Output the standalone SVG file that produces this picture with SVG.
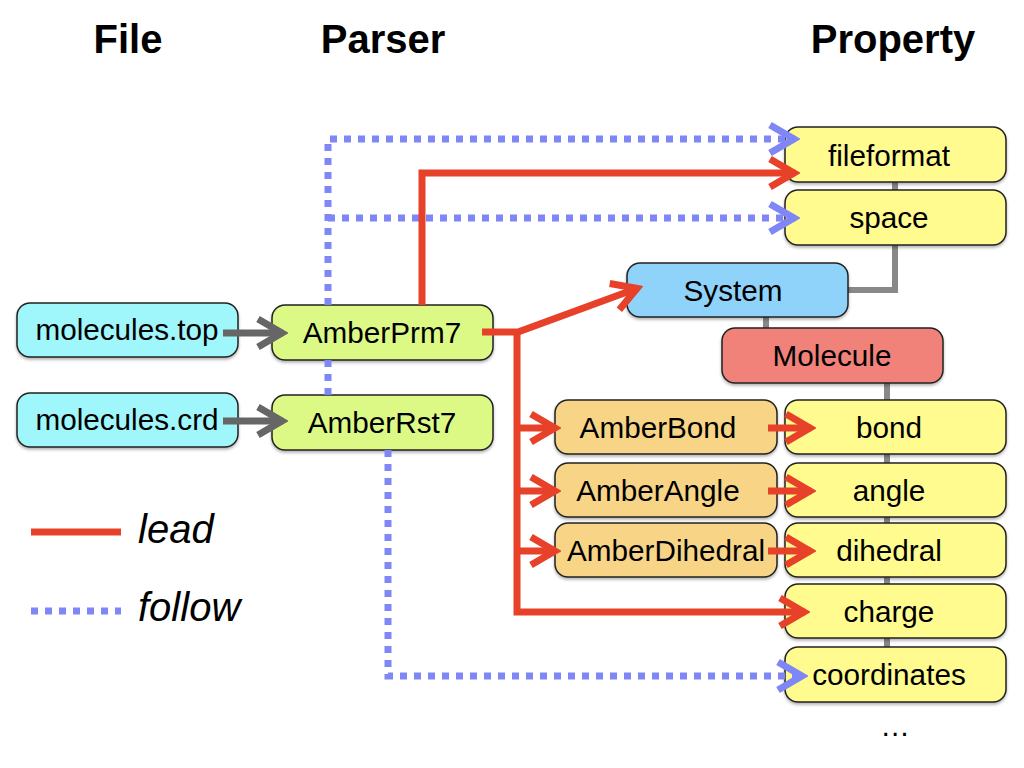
<svg xmlns="http://www.w3.org/2000/svg" width="1024" height="768" viewBox="0 0 1024 768">
<style>
  .hdr { font-family: "Liberation Sans", Arial, Helvetica, sans-serif; font-weight: bold; font-size: 40px; fill: #000; text-anchor: middle; }
  .lbl { font-family: "Liberation Sans", Arial, Helvetica, sans-serif; font-size: 29.7px; fill: #000; text-anchor: middle; }
  .leg { font-family: "Liberation Sans", Arial, Helvetica, sans-serif; font-style: italic; font-size: 40px; fill: #000; }
  .box { stroke: #222; stroke-width: 1.5; filter: url(#sh); }
  .file { fill: #9ff6fb; }
  .parser { fill: #dcf986; }
  .prop { fill: #fffb8f; }
  .sys { fill: #8fd3fb; }
  .mol { fill: #f0827a; }
  .amber { fill: #f8d486; }
  .lead { stroke: #e8412a; stroke-width: 7; fill: none; }
  .follow { stroke: #7f86f5; stroke-width: 7; fill: none; stroke-dasharray: 7 7; }
  .tree { stroke: #888; stroke-width: 6; fill: none; }
  .feed { stroke: #666; stroke-width: 7; fill: none; }
</style>
<defs>
  <filter id="sh" x="-10%" y="-20%" width="120%" height="150%">
    <feDropShadow dx="0" dy="2" stdDeviation="1.5" flood-color="#000" flood-opacity="0.3"/>
  </filter>
  <marker id="ar" markerUnits="userSpaceOnUse" markerWidth="36" markerHeight="36" viewBox="0 0 36 36" refX="31" refY="18" orient="auto">
    <path d="M6,4 L30,18 L6,32" fill="none" stroke="#e8412a" stroke-width="7"/>
  </marker>
  <marker id="ab" markerUnits="userSpaceOnUse" markerWidth="36" markerHeight="36" viewBox="0 0 36 36" refX="31" refY="18" orient="auto">
    <path d="M6,4 L30,18 L6,32" fill="none" stroke="#7f86f5" stroke-width="7"/>
  </marker>
  <marker id="ag" markerUnits="userSpaceOnUse" markerWidth="36" markerHeight="36" viewBox="0 0 36 36" refX="31" refY="18" orient="auto">
    <path d="M6,4 L30,18 L6,32" fill="none" stroke="#666" stroke-width="7"/>
  </marker>
</defs>
<rect width="1024" height="768" fill="#fff"/>

<g id="headers">
  <text class="hdr" x="128" y="53">File</text>
  <text class="hdr" x="383" y="53">Parser</text>
  <text class="hdr" x="893" y="53">Property</text>
</g>

<g id="connectors-back">
  <path class="tree" d="M895,182 V190 M895,245 V290 H848 M766,317 V328 M887,383 V400 M887,454 V463 M887,517 V523 M887,577 V584 M887,638 V647"/>
</g>

<g id="node-molecules-top"><rect class="box file" x="17" y="303" width="221" height="54" rx="13"/><text class="lbl" x="127" y="340">molecules.top</text></g>
<g id="node-molecules-crd"><rect class="box file" x="17" y="393" width="221" height="54" rx="13"/><text class="lbl" x="127" y="430">molecules.crd</text></g>
<g id="node-amberprm7"><rect class="box parser" x="272" y="305" width="221" height="55" rx="13"/><text class="lbl" x="382" y="343">AmberPrm7</text></g>
<g id="node-amberrst7"><rect class="box parser" x="272" y="395" width="221" height="55" rx="13"/><text class="lbl" x="382" y="433">AmberRst7</text></g>
<g id="node-fileformat"><rect class="box prop" x="785" y="127" width="221" height="55" rx="13"/><text class="lbl" x="889" y="166">fileformat</text></g>
<g id="node-space"><rect class="box prop" x="785" y="190" width="221" height="55" rx="13"/><text class="lbl" x="889" y="228">space</text></g>
<g id="node-system"><rect class="box sys" x="627" y="263" width="221" height="54" rx="13"/><text class="lbl" x="733" y="301">System</text></g>
<g id="node-molecule"><rect class="box mol" x="722" y="328" width="221" height="55" rx="13"/><text class="lbl" x="832" y="366">Molecule</text></g>
<g id="node-amberbond"><rect class="box amber" x="555" y="400" width="222" height="54" rx="13"/><text class="lbl" x="658" y="438">AmberBond</text></g>
<g id="node-amberangle"><rect class="box amber" x="555" y="463" width="222" height="54" rx="13"/><text class="lbl" x="658" y="501">AmberAngle</text></g>
<g id="node-amberdihedral"><rect class="box amber" x="555" y="523" width="222" height="54" rx="13"/><text class="lbl" x="666" y="561">AmberDihedral</text></g>
<g id="node-bond"><rect class="box prop" x="785" y="400" width="221" height="54" rx="13"/><text class="lbl" x="889" y="438">bond</text></g>
<g id="node-angle"><rect class="box prop" x="785" y="463" width="221" height="54" rx="13"/><text class="lbl" x="889" y="501">angle</text></g>
<g id="node-dihedral"><rect class="box prop" x="785" y="523" width="221" height="54" rx="13"/><text class="lbl" x="889" y="561">dihedral</text></g>
<g id="node-charge"><rect class="box prop" x="785" y="584" width="221" height="54" rx="13"/><text class="lbl" x="889" y="622">charge</text></g>
<g id="node-coordinates"><rect class="box prop" x="785" y="647" width="221" height="55" rx="13"/><text class="lbl" x="889" y="685">coordinates</text></g>
<g id="node-more"><text class="lbl" x="895" y="736">…</text></g>

<g id="connectors-front">
  <path class="follow" d="M328,305 V139 H795" marker-end="url(#ab)"/>
  <path class="follow" d="M328,395 V360"/>
  <path class="follow" d="M328,218 H795" marker-end="url(#ab)"/>
  <path class="follow" d="M388,450 V676 H803" marker-end="url(#ab)"/>
  <path class="feed" d="M223,333 H283" marker-end="url(#ag)"/>
  <path class="feed" d="M223,421 H283" marker-end="url(#ag)"/>
  <path class="lead" d="M422,305 V173 H795" marker-end="url(#ar)"/>
  <path class="lead" d="M482,332 H518 L638,288" marker-end="url(#ar)"/>
  <path class="lead" d="M517,332 V612 H805" marker-end="url(#ar)"/>
  <path class="lead" d="M517,428 H556" marker-end="url(#ar)"/>
  <path class="lead" d="M517,491 H556" marker-end="url(#ar)"/>
  <path class="lead" d="M517,551 H556" marker-end="url(#ar)"/>
  <path class="lead" d="M768,428 H811" marker-end="url(#ar)"/>
  <path class="lead" d="M768,491 H811" marker-end="url(#ar)"/>
  <path class="lead" d="M768,551 H811" marker-end="url(#ar)"/>
</g>

<g id="legend">
  <line class="lead" x1="31" y1="532" x2="121" y2="532"/>
  <text class="leg" x="138" y="543">lead</text>
  <line class="follow" x1="31" y1="611" x2="121" y2="611"/>
  <text class="leg" x="138" y="621">follow</text>
</g>
</svg>
